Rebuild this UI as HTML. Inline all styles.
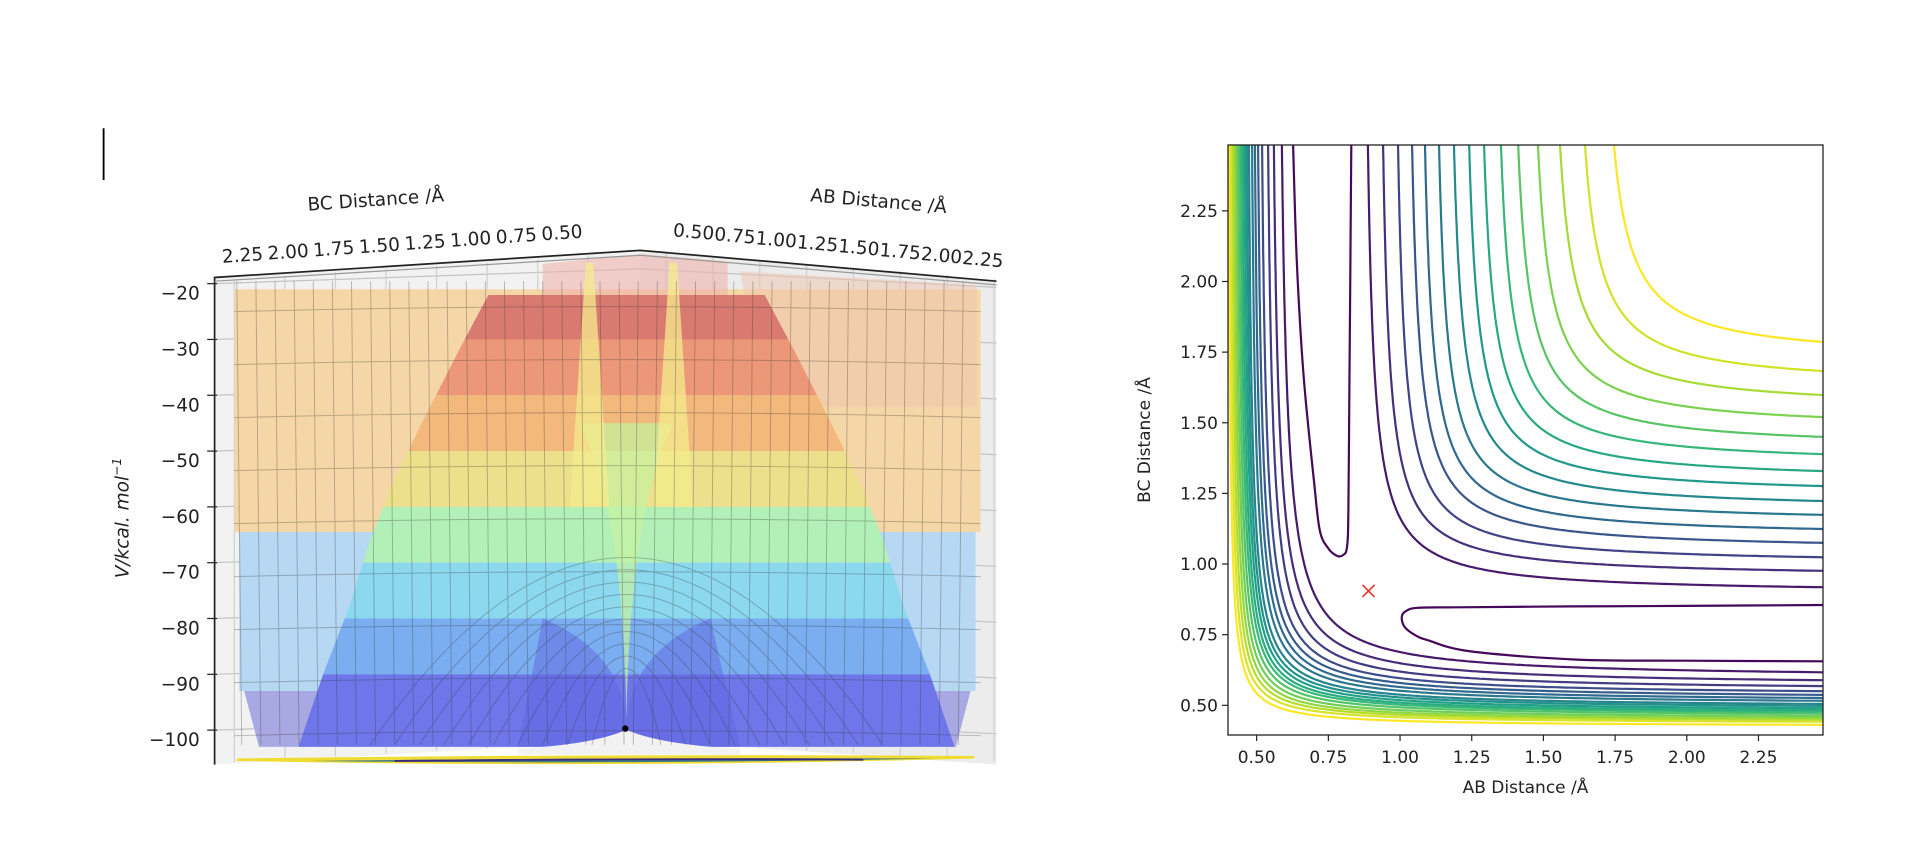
<!DOCTYPE html>
<html><head><meta charset="utf-8"><style>
html,body{margin:0;padding:0;background:#fff;}
svg{display:block;font-family:"DejaVu Sans","Liberation Sans",sans-serif;}
</style></head><body>
<svg id="fig" width="1924" height="852" viewBox="0 0 1924 852" xmlns="http://www.w3.org/2000/svg">
<rect width="1924" height="852" fill="#fff"/>
<g id="left" transform="scale(1.2333)">
  <line x1="84" y1="104" x2="84" y2="146" stroke="#000" stroke-width="1.5"/>
  <polygon points="174,225 519,203 519,600 174,620" fill="#f2f2f2"/>
  <polygon points="519,203 808,228 808,620 519,600" fill="#ececec"/>
  <g id="grid3d"></g>
  <g id="surf"></g>
  <g id="axes3d"></g>
</g>
<g id="right"></g>
</svg>
<script>
// ---------- 3D panel data ----------
const zTicks=[-20,-30,-40,-50,-60,-70,-80,-90,-100];
const bcTicks=["2.25","2.00","1.75","1.50","1.25","1.00","0.75","0.50"];
const abTicks=["0.50","0.75","1.00","1.25","1.50","1.75","2.00","2.25"];
const bellZ=[-22,-32,-45,-56,-66,-78,-90,-103];
const bellLeftX=[396,372,342,318,300,283,262,242];
const bandZ=[-22,-30,-40,-50,-60,-70,-80,-90,-103];
const bandColors=["#d97a70","#ec9878","#f2b87c","#ece08c","#b2f0b8","#8cd8ee","#7aaef0","#6e76ea"];
const sideZ=[-21,-64.5,-93,-103];
const sideColors=["#f5d6a6","#b6d8f3","#a8a8e2"];
const minimumZ=-99.5;
// ---------- contour data ----------
const xTickVals=[0.5,0.75,1.0,1.25,1.5,1.75,2.0,2.25];
const yTickVals=[0.5,0.75,1.0,1.25,1.5,1.75,2.0,2.25];
const aTopX=[0.888,0.941,0.993,1.042,1.087,1.136,1.188,1.241,1.293,1.352,1.412,1.481,1.558,1.645,1.746];
const aRightY=[0.918,0.976,1.024,1.075,1.124,1.174,1.223,1.276,1.329,1.389,1.450,1.520,1.598,1.683,1.786];
const aCorner=[0.19,0.19,0.195,0.2,0.2,0.2,0.205,0.205,0.21,0.21,0.215,0.215,0.22,0.22,0.224];
const bTopX=[0.588,0.560,0.540,0.519,0.505,0.494,0.484,0.473,0.466,0.459,0.452,0.445,0.438,0.431,0.424,0.417,0.410,0.403];
const bRightY=[0.617,0.589,0.568,0.550,0.537,0.526,0.516,0.505,0.498,0.490,0.483,0.477,0.470,0.462,0.455,0.449,0.442,0.431];
const bCorner=[0.2,0.19,0.18,0.175,0.17,0.165,0.16,0.155,0.15,0.147,0.143,0.14,0.135,0.13,0.125,0.12,0.115,0.11];
const loopUpX=[0.627,0.64,0.664,0.70,0.72,0.75,0.78,0.80,0.815,0.82,0.823,0.826,0.83];
const loopUpY=[2.483,2.07,1.662,1.293,1.119,1.055,1.029,1.031,1.06,1.196,1.585,1.973,2.483];
const loopRtX=[2.475,2.0,1.6,1.2,1.06,1.02,1.006,1.015,1.05,1.098,1.246,1.615,2.0,2.475];
const loopRtY=[0.855,0.852,0.850,0.847,0.845,0.833,0.814,0.779,0.750,0.730,0.691,0.662,0.658,0.656];
const saddleX=[0.89], saddleY=[0.905];

const NS="http://www.w3.org/2000/svg";
function mk(tag,attrs,parent){const e=document.createElementNS(NS,tag);for(const k in attrs)e.setAttribute(k,attrs[k]);parent.appendChild(e);return e;}

// ----- 3D -----
const zy=v=>230+(-20-v)*4.525;
const grid=document.getElementById('grid3d');
const ax=document.getElementById('axes3d');
const surf=document.getElementById('surf');
zTicks.forEach(v=>{
  const y=zy(v);
  const l=mk('polyline',{points:`174,${y} 519,${y-12} 808,${y+3}`,fill:'none',stroke:'#c4c4c4','stroke-width':1},grid);
  
  
  const t=mk('line',{x1:168,y1:y,x2:176,y2:y,stroke:'#222','stroke-width':1},ax);
  
  
  const tx=mk('text',{x:162,y:y+13,'text-anchor':'end','font-size':15,fill:'#222'},ax);
  tx.textContent=String(v).replace('-','\u2212');
  
  
});
for(let i=0;i<8;i++){
  const x1=190+i*41, x2=540+i*38;
  mk('line',{x1:x1,y1:226-i*2.6,x2:x1,y2:618-i*2.3,stroke:'#d0d0d0','stroke-width':1},grid);
  mk('line',{x1:x2,y1:205+i*3,x2:x2,y2:602+i*2.2,stroke:'#d0d0d0','stroke-width':1},grid);
}
const side=mk('g',{},surf);


for(let i=0;i<sideColors.length;i++){
  const y1=zy(sideZ[i]),y2=zy(sideZ[i+1]);
  const inset=i==2?8:(i==1?4:0);
  const r=mk('path',{d:`M${190+inset},${y1} L${795-inset},${y1} L${795-inset-(i==2?12:0)},${y2} L${190+inset+(i==2?12:0)},${y2} Z`,fill:sideColors[i]},side);
  
  
}
mk('path',{d:`M440,214 L519,206 L590,212 L590,246 L440,246 Z`,fill:'#eeb4ac',opacity:0.6},surf);
mk('path',{d:`M600,220 L792,231 L792,330 L620,330 Z`,fill:'#f0c4b0',opacity:0.5},surf);
const defs=mk('defs',{},surf);
const cp=mk('clipPath',{id:'bell'},defs);
let d='M'+bellLeftX[0]+','+zy(bellZ[0]);
for(let i=1;i<bellZ.length;i++)d+=' L'+bellLeftX[i]+','+zy(bellZ[i]);
for(let i=bellZ.length-1;i>=0;i--)d+=' L'+(2*508-bellLeftX[i])+','+zy(bellZ[i]);
d+='Z';
mk('path',{d:d},cp);
const bell=mk('g',{'clip-path':'url(#bell)'},surf);


for(let i=0;i<bandColors.length;i++){
  const y1=zy(bandZ[i]),y2=zy(bandZ[i+1]);
  const r=mk('rect',{x:200,y:y1,width:620,height:y2-y1,fill:bandColors[i]},bell);
  
  
}
mk('path',{d:`M470,${zy(-45)} Q505,${zy(-60)} 508,${zy(-98)} Q511,${zy(-60)} 546,${zy(-45)} Z`,fill:'#c6f2a0',opacity:0.7},bell);
mk('path',{d:`M440,${zy(-80)} Q505,${zy(-86)} 508,${zy(-99)} Q511,${zy(-86)} 576,${zy(-80)} L600,${zy(-103)} L420,${zy(-103)} Z`,fill:'#5f66e0',opacity:0.5},bell);
[478,546].forEach(sxp=>{
  const p=mk('path',{d:`M${sxp-3},213 L${sxp+3},213 L${sxp+16},${zy(-60)} L${sxp-16},${zy(-60)} Z`,fill:'#f4ec8c',opacity:0.75},surf);
  
  
});
mk('path',{d:`M420,607 Q480,604 508,${zy(minimumZ)+2} Q536,604 600,607 L600,612 L420,612 Z`,fill:'#f2f2f2'},surf);
const mesh=mk('g',{stroke:'#333',opacity:0.3,'stroke-width':0.8,fill:'none'},surf);


for(let x=192;x<=792;x+=15.5){mk('line',{x1:x,y1:228,x2:x+(x<508?4:-4),y2:604},mesh);}
for(let k=0;k<9;k++){const y=zy(-25-k*9.5);mk('path',{d:`M190,${y} Q508,${y-8} 795,${y}`},mesh);}
for(let k=0;k<10;k++){mk('path',{d:`M${300+k*20},604 Q508,${300+k*20} ${716-k*20},604`},mesh);}
const proj=mk('g',{},surf);


mk('path',{d:'M192,616 Q500,612 790,614 Q500,622 192,616Z',fill:'#f4e04a',stroke:'#f0dc30','stroke-width':2},proj);
mk('path',{d:'M250,617 Q500,614 760,615 Q500,620 250,617Z',fill:'#3e7a8c'},proj);
mk('path',{d:'M320,617 Q500,615 700,616',stroke:'#3b2a7a','stroke-width':1.5,fill:'none'},proj);
const dot=mk('circle',{cx:507,cy:zy(minimumZ)+1,r:2.6,fill:'#000'},surf);


mk('polyline',{points:'174,620 174,225 519,203 808,228',fill:'none',stroke:'#222','stroke-width':1.4},ax);
mk('polyline',{points:'174,228 519,207 808,231',fill:'none',stroke:'#999','stroke-width':1},ax);
bcTicks.forEach((t,i)=>{
  const x=197+i*37, y=212-i*2.6;
  const e=mk('text',{x:x,y:y,'text-anchor':'middle','font-size':15,fill:'#222',transform:`rotate(-4 ${x} ${y})`},ax);
  e.textContent=t;
  
  
});
abTicks.forEach((t,i)=>{
  const x=562+i*33.5, y=193+i*3.2;
  const e=mk('text',{x:x,y:y,'text-anchor':'middle','font-size':15,fill:'#222',transform:`rotate(5 ${x} ${y})`},ax);
  e.textContent=t;
  
  
});
(function(){
  let e=mk('text',{x:305,y:167,'text-anchor':'middle','font-size':15,fill:'#222',transform:'rotate(-4 305 167)'},ax);
  e.textContent='BC Distance /Å';
  
  
  e=mk('text',{x:712,y:168,'text-anchor':'middle','font-size':15,fill:'#222',transform:'rotate(5 712 168)'},ax);
  e.textContent='AB Distance /Å';
  
  
  e=mk('text',{x:104,y:420,'text-anchor':'middle','font-size':15,fill:'#222','font-style':'italic',transform:'rotate(-90 104 420)'},ax);
  e.innerHTML='V/kcal. mol<tspan dy="-6" font-size="10">−1</tspan>';
  
  
})();

// ----- contour -----
const R=document.getElementById('right');
const X0=0.4,X1=2.475,Y0=0.395,Y1=2.483,BL=1228,BR=1823,BT=145,BB=735;
const sx=v=>BL+(v-X0)/(X1-X0)*(BR-BL);
const sy=v=>BB-(v-Y0)/(Y1-Y0)*(BB-BT);
const vir=[[68,1,84],[72,40,120],[62,73,137],[49,104,142],[38,130,142],[31,158,137],[53,183,121],[109,205,89],[180,222,44],[253,231,37]];
function viridis(t){t=Math.max(0,Math.min(1,t))*9;const i=Math.min(8,Math.floor(t)),f=t-i;const a=vir[i],b=vir[i+1];return `rgb(${a.map((c,j)=>Math.round(c+(b[j]-c)*f)).join(',')})`;}
const cdefs=mk('defs',{},R);
const cclip=mk('clipPath',{id:'cbox'},cdefs);
mk('rect',{x:BL,y:BT,width:BR-BL,height:BB-BT},cclip);
const lines=mk('g',{'clip-path':'url(#cbox)',fill:'none','stroke-width':2.2},R);


function hyper(xt,yr,s,color,name){
  const k=s*s;let a=xt-0.01,b=yr-0.01;
  for(let i=0;i<300;i++){a=xt-k/(Y1-b);b=yr-k/(X1-a);}
  const w1=-Math.log((Y1-b)/s),w2=Math.log((X1-a)/s);
  let pts=[];
  for(let i=0;i<=240;i++){const w=w1+(w2-w1)*i/240;pts.push(sx(a+s*Math.exp(w)).toFixed(1)+','+sy(b+s*Math.exp(-w)).toFixed(1));}
  const p=mk('polyline',{points:pts.join(' '),stroke:color},lines);
  
  
}
for(let i=bTopX.length-1;i>=0;i--)hyper(bTopX[i],bRightY[i],bCorner[i],viridis(0.07+0.93*i/(bTopX.length-1)),'contour-wall-level');
for(let i=aTopX.length-1;i>=0;i--)hyper(aTopX[i],aRightY[i],aCorner[i],viridis(0.07+0.93*i/(aTopX.length-1)),'contour-plateau-level');
function smoothPath(xs,ys){
  const P=xs.map((x,i)=>[sx(x),sy(ys[i])]);
  let d='M'+P[0][0].toFixed(1)+','+P[0][1].toFixed(1);
  for(let i=0;i<P.length-1;i++){
    const p0=P[Math.max(0,i-1)],p1=P[i],p2=P[i+1],p3=P[Math.min(P.length-1,i+2)];
    const c1=[p1[0]+(p2[0]-p0[0])/6,p1[1]+(p2[1]-p0[1])/6],c2=[p2[0]-(p3[0]-p1[0])/6,p2[1]-(p3[1]-p1[1])/6];
    d+=` C${c1[0].toFixed(1)},${c1[1].toFixed(1)} ${c2[0].toFixed(1)},${c2[1].toFixed(1)} ${p2[0].toFixed(1)},${p2[1].toFixed(1)}`;
  }
  return d;
}
function poly(xs,ys,name){
  const p=mk('path',{d:smoothPath(xs,ys),stroke:viridis(0.02),'stroke-linejoin':'round'},lines);
  
  
}
poly(loopUpX,loopUpY,'contour-loop-upper');
poly(loopRtX,loopRtY,'contour-loop-right');
saddleX.forEach((x,i)=>{
  const cx=sx(x),cy=sy(saddleY[i]);
  const g=mk('path',{d:`M${cx-6},${cy-6} L${cx+6},${cy+6} M${cx-6},${cy+6} L${cx+6},${cy-6}`,stroke:'#e8332a','stroke-width':1.6,fill:'none'},R);
  
  
});
const fr=mk('rect',{x:BL,y:BT,width:BR-BL,height:BB-BT,fill:'none',stroke:'#222','stroke-width':1.3},R);


xTickVals.forEach(v=>{
  const x=sx(v);
  const t=mk('line',{x1:x,y1:BB,x2:x,y2:BB+6,stroke:'#222','stroke-width':1.2},R);
  
  
  const e=mk('text',{x:x,y:BB+28,'text-anchor':'middle','font-size':17,fill:'#222'},R);
  e.textContent=v.toFixed(2);
  
  
});
yTickVals.forEach(v=>{
  const y=sy(v);
  const t=mk('line',{x1:BL-6,y1:y,x2:BL,y2:y,stroke:'#222','stroke-width':1.2},R);
  
  
  const e=mk('text',{x:BL-10,y:y+6,'text-anchor':'end','font-size':17,fill:'#222'},R);
  e.textContent=v.toFixed(2);
  
  
});
(function(){
  let e=mk('text',{x:(BL+BR)/2,y:793,'text-anchor':'middle','font-size':17,fill:'#222'},R);
  e.textContent='AB Distance /Å';
  
  
  e=mk('text',{x:1150,y:(BT+BB)/2,'text-anchor':'middle','font-size':17,fill:'#222',transform:`rotate(-90 1150 ${(BT+BB)/2})`},R);
  e.textContent='BC Distance /Å';
  
  
})();
</script>
</body></html>
